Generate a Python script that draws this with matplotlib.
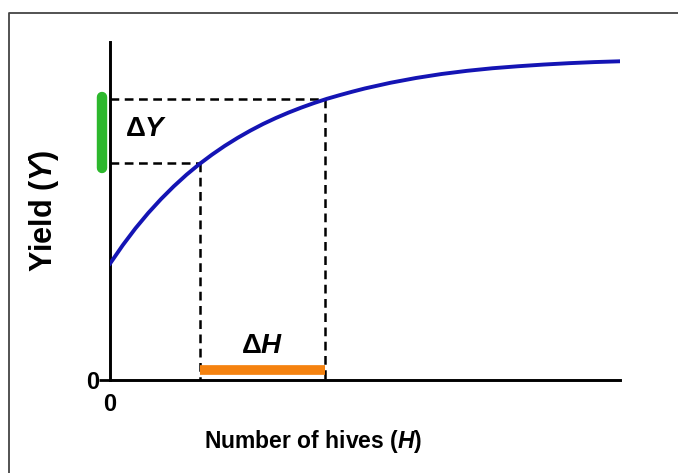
import matplotlib
matplotlib.use("Agg")
from matplotlib import pyplot as plt
from matplotlib import font_manager
from matplotlib.lines import Line2D

# data
hives = [0, 0.25, 0.5, 0.75, 1, 1.25, 1.5, 1.75, 2, 2.25, 2.5, 2.75, 3, 3.25, 3.5, 3.75,
         4, 4.25, 4.5, 4.75, 5, 5.5, 6, 6.5, 7, 7.5, 8, 8.5, 9, 9.5, 10]
yield_vals = [117, 135.6, 152.6, 168, 182, 194.8, 206.5, 217.1, 226.7, 235.5, 243.5, 250.8,
              257.5, 263.5, 269, 274, 278.6, 282.8, 286.5, 290, 293.3, 299, 303.8, 307.8,
              311, 313.6, 315.6, 317.3, 318.7, 319.8, 320.6]
dH = [1.76, 4.22]
dY = [218, 283]

names = {f.name for f in font_manager.fontManager.ttflist}
fam = "Liberation Sans Narrow" if "Liberation Sans Narrow" in names else "Liberation Sans"
plt.rcParams['font.family'] = [fam, 'DejaVu Sans']
plt.rcParams['font.weight'] = 'bold'
plt.rcParams['mathtext.fontset'] = 'custom'
plt.rcParams['mathtext.it'] = fam + ':style=italic:weight=bold'
plt.rcParams['mathtext.rm'] = fam + ':weight=bold'

W, H = 678, 473
fig = plt.figure(figsize=(W / 100, H / 100), dpi=100)
ax = fig.add_axes([110 / W, 1 - 380 / H, 510 / W, 338 / H])

# frame around the picture (top and left only visible)
fig.add_artist(Line2D([9 / W, 9 / W, 1.0], [0.0, 1 - 13 / H, 1 - 13 / H],
                      transform=fig.transFigure, color="#444444", lw=1.3))

ax.plot(hives, yield_vals, color="#1414b4", lw=2.8, solid_joinstyle="round", zorder=3)

dash = dict(color="black", lw=1.8, dashes=(3.5, 2.2))
for h, y in zip(dH, dY):
    ax.plot([0, h], [y, y], **dash)
    ax.plot([h, h], [y, 0], **dash)

# delta Y bar on the y axis, delta H bar on the x axis
ax.plot([-8 / 510, -8 / 510], [dY[0] - 5, dY[1] + 2], transform=ax.get_yaxis_transform(),
        color="#2db82d", lw=7.5, solid_capstyle="round", clip_on=False, zorder=4)
ax.plot(dH, [10, 10], color="#f5820f", lw=7, solid_capstyle="butt", zorder=4)

ax.text(0.3, (dY[0] + dY[1]) / 2 + 2, "Δ$Y$", fontsize=20, ha="left", va="center")
ax.text(sum(dH) / 2, 34, "Δ$H$", fontsize=20, ha="center", va="center")

ax.set_xlim(0, 10)
ax.set_ylim(0, 340)
for s in ("top", "right"):
    ax.spines[s].set_visible(False)
for s in ("left", "bottom"):
    ax.spines[s].set_linewidth(2.1)
ax.set_xticks([0])
ax.set_yticks([0])
ax.set_xticklabels(["0"], fontsize=17)
ax.set_yticklabels(["0"], fontsize=17)
ax.tick_params(axis="x", length=0, pad=9)
ax.tick_params(axis="y", length=8, width=2, pad=0)

ax.text((313 - 110) / 510, -(441 - 380) / 338, "Number of hives ($H$)", fontsize=16.5,
        ha="center", va="center", transform=ax.transAxes)
ax.text(-(110 - 44) / 510, 0.5, "Yield ($Y$)", fontsize=22, rotation=90,
        ha="center", va="center", transform=ax.transAxes)

fig.savefig("out.png", dpi=100)
